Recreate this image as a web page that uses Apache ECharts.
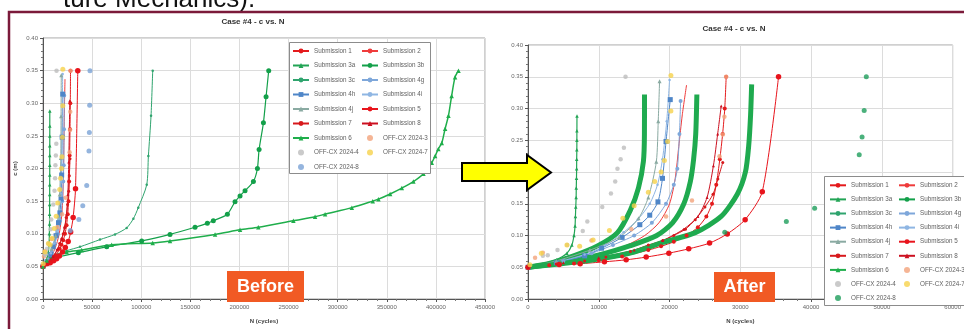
<!DOCTYPE html>
<html><head><meta charset="utf-8">
<style>html,body{margin:0;padding:0;background:#fff}#c{width:964px;height:329px}</style>
<script src="https://cdn.jsdelivr.net/npm/echarts@6/dist/echarts.min.js"></script>
</head><body><div id="c"></div>
<script>
// ---------- data: [N (cycles), c (m)] ----------
const sub1 = [[0,0.05],[3000,0.053],[6500,0.056],[10000,0.061],[13300,0.067],[17000,0.077],[18800,0.083],[20600,0.09],[22400,0.1],[24000,0.113],[25200,0.13],[26000,0.15],[26600,0.18],[27100,0.22],[27500,0.26],[27800,0.3],[28000,0.35]];
const sub2 = [[0,0.05],[4000,0.056],[8000,0.064],[11000,0.073],[14000,0.085],[16500,0.1],[18500,0.12],[20000,0.15],[20800,0.19],[21300,0.24],[21800,0.29],[22400,0.337]];
const sub3a = [[0,0.05],[2000,0.055],[4000,0.062],[5500,0.072],[6200,0.085],[6500,0.1],[6650,0.115],[6700,0.13],[6750,0.145],[6800,0.16],[6820,0.175],[6850,0.19],[6870,0.205],[6880,0.22],[6900,0.235],[6905,0.25],[6910,0.265],[6920,0.288]];
const sub3bBefore = [[0,0.05],[10000,0.062],[36000,0.071],[64900,0.08],[100500,0.089],[129300,0.099],[154800,0.11],[167300,0.116],[173400,0.12],[187700,0.13],[195500,0.149],[200600,0.158],[205700,0.166],[214200,0.18],[218300,0.2],[220000,0.229],[224400,0.27],[227100,0.31],[229800,0.35]];
const sub3cBefore = [[0,0.05],[7100,0.064],[24100,0.074],[37700,0.08],[58000,0.091],[73300,0.099],[85200,0.109],[92000,0.123],[97000,0.14],[105600,0.175],[107300,0.219],[110000,0.281],[111700,0.35]];
const sub6Before = [[0,0.05],[3800,0.059],[24100,0.072],[39400,0.075],[69900,0.083],[111700,0.086],[129300,0.089],[175200,0.099],[200600,0.106],[219200,0.11],[254900,0.12],[277000,0.126],[287200,0.13],[314400,0.14],[335700,0.15],[341500,0.153],[353400,0.161],[365300,0.17],[377100,0.18],[387300,0.192],[395800,0.209],[399200,0.219],[402500,0.23],[406000,0.239],[409400,0.261],[412800,0.281],[416000,0.311],[419500,0.34],[423000,0.35]];
const sub3cAfter = [[0,0.05],[3000,0.056],[6450,0.068],[9890,0.084],[12640,0.1045],[14470,0.14],[15610,0.175],[16300,0.216],[16450,0.26],[16460,0.322]];
const sub3bAfter = [[0,0.05],[5000,0.058],[9890,0.069],[14470,0.084],[18130,0.0995],[20420,0.12],[22020,0.15],[22940,0.185],[23400,0.22],[23700,0.26],[23860,0.322]];
const sub6After = [[0,0.05],[5000,0.056],[10000,0.063],[15000,0.074],[19050,0.089],[23630,0.1045],[27290,0.13],[29570,0.165],[30720,0.2],[31180,0.241],[31450,0.29],[31600,0.338]];
const sub4g = [[0,0.05],[5000,0.06],[9000,0.072],[12000,0.085],[15000,0.1],[17500,0.12],[19500,0.15],[20600,0.18],[21100,0.205],[21400,0.26],[21560,0.312]];
const sub4h = [[0,0.05],[4000,0.057],[8000,0.068],[10400,0.08],[13300,0.097],[15800,0.117],[17200,0.132],[18360,0.153],[19000,0.19],[19500,0.248],[20100,0.314]];
const sub4i = [[0,0.05],[4000,0.058],[8000,0.07],[11000,0.085],[13500,0.105],[15500,0.125],[17200,0.15],[18300,0.18],[19000,0.22],[19600,0.28],[20000,0.345]];
const sub4j = [[0,0.05],[4000,0.06],[8750,0.077],[12870,0.097],[15610,0.127],[17000,0.16],[18130,0.216],[18400,0.28],[18590,0.343]];
const sub5 = [[0,0.05],[4400,0.0545],[7370,0.0556],[10800,0.0586],[13870,0.0617],[16700,0.066],[19900,0.0722],[22710,0.079],[25650,0.088],[28150,0.1025],[30680,0.125],[33100,0.169],[35400,0.35]];
const sub7 = [[0,0.05],[4000,0.055],[8000,0.06],[11000,0.066],[14470,0.075],[17000,0.085],[19050,0.092],[20600,0.1],[22250,0.11],[23630,0.125],[25000,0.145],[26140,0.165],[26830,0.189],[27520,0.215]];
const sub8 = [[0,0.05],[5000,0.057],[10000,0.065],[15000,0.077],[19000,0.092],[22000,0.11],[24000,0.13],[25300,0.16],[26200,0.21],[26800,0.26],[27300,0.304]];
const off3 = [[1000,0.065],[2100,0.073],[8970,0.092],[14610,0.11],[19500,0.13],[23170,0.155],[27060,0.225],[27520,0.259],[27750,0.287],[28000,0.35]];
const off4 = [[2100,0.068],[2790,0.069],[4170,0.077],[5540,0.085],[7740,0.107],[8380,0.122],[10490,0.145],[11720,0.166],[12320,0.185],[12640,0.205],[13090,0.22],[13550,0.238],[13780,0.35]];
const off7 = [[270,0.054],[1880,0.072],[5500,0.085],[7300,0.083],[9200,0.093],[11500,0.108],[13400,0.127],[15000,0.147],[17000,0.168],[17900,0.185],[18810,0.2],[19270,0.218],[19730,0.248],[20190,0.296],[20190,0.352]];
const off8 = [[27800,0.105],[36500,0.122],[40500,0.143],[44500,0.174],[46800,0.227],[47200,0.255],[47500,0.297],[47800,0.35]];

const xTicksBefore = {min:0, max:450000, interval:50000};
const xTicksAfter = {min:0, max:60000, interval:10000};
const yTicks = {min:0, max:0.4, interval:0.05};

const legendLeftCol = ['Submission 1','Submission 3a','Submission 3c','Submission 4h','Submission 4j','Submission 7','Submission 6','OFF-CX 2024-4','OFF-CX 2024-8'];
const legendRightCol = ['Submission 2','Submission 3b','Submission 4g','Submission 4i','Submission 5','Submission 8','OFF-CX 2024-3','OFF-CX 2024-7'];

// ---------- styles ----------
const ST = {
  'Submission 1': {c:'#e41a1c', s:'circle', z:4, w:1},
  'Submission 2': {c:'#ef3b3b', s:'none', z:0, w:1},
  'Submission 3a': {c:'#22a455', s:'triangle', z:3.5, w:1.2},
  'Submission 3b': {c:'#13a04a', s:'circle', z:5, w:1.2},
  'Submission 3c': {c:'#2fa46e', s:'circle', z:2.5, w:1},
  'Submission 4g': {c:'#7ea7da', s:'circle', z:4, w:1},
  'Submission 4h': {c:'#4f86c8', s:'rect', z:5, w:1},
  'Submission 4i': {c:'#8fb6e3', s:'circle', z:2.5, w:1},
  'Submission 4j': {c:'#8aaaa2', s:'triangle', z:4, w:1},
  'Submission 5': {c:'#e8141c', s:'circle', z:5.5, w:1},
  'Submission 7': {c:'#d7191c', s:'circle', z:3, w:1},
  'Submission 8': {c:'#cc1020', s:'triangle', z:3, w:1},
  'Submission 6': {c:'#1fae4b', s:'triangle', z:4.5, w:1.5},
  'OFF-CX 2024-3': {c:'#f3a27a', z:4.5},
  'OFF-CX 2024-4': {c:'#bdbdbd', z:4.5},
  'OFF-CX 2024-7': {c:'#f6d24b', z:5},
  'OFF-CX 2024-8': {c:'#7aa3d6', z:5}
};
const OFF8_AFTER_COLOR = '#1e9e5b';
const FONT = '"Liberation Sans", Arial, sans-serif';

function line(name, data, gi, over) {
  const st = ST[name];
  const o = {type:'line', name, data, xAxisIndex:gi, yAxisIndex:gi, smooth:0.25,
    symbol: st.s, symbolSize: st.z, showSymbol: st.s !== 'none',
    lineStyle:{color:st.c, width:st.w}, itemStyle:{color:st.c}, animation:false, z:2};
  if (over) Object.assign(o, over);
  return o;
}
function dots(name, data, gi, color) {
  const st = ST[name];
  return {type:'scatter', name, data, xAxisIndex:gi, yAxisIndex:gi, symbol:'circle',
    symbolSize: st.z, itemStyle:{color: color || st.c}, animation:false, z:3};
}
const thick = {lineStyle:{color:'#1faa4f', width:5}, showSymbol:false, symbol:'none'};

const series = [
  // before (grid 0)
  line('Submission 1', sub1, 0), line('Submission 2', sub2, 0), line('Submission 3a', sub3a, 0),
  line('Submission 3b', sub3bBefore, 0), line('Submission 3c', sub3cBefore, 0),
  line('Submission 4g', sub4g, 0), line('Submission 4h', sub4h, 0), line('Submission 4i', sub4i, 0),
  line('Submission 4j', sub4j, 0), line('Submission 5', sub5, 0), line('Submission 7', sub7, 0),
  line('Submission 8', sub8, 0), line('Submission 6', sub6Before, 0),
  dots('OFF-CX 2024-3', off3, 0), dots('OFF-CX 2024-4', off4, 0), dots('OFF-CX 2024-7', off7, 0),
  dots('OFF-CX 2024-8', off8, 0),
  // after (grid 1)
  line('Submission 1', sub1, 1), line('Submission 2', sub2, 1), line('Submission 3a', sub3a, 1),
  line('Submission 3b', sub3bAfter, 1, thick), line('Submission 3c', sub3cAfter, 1, thick),
  line('Submission 4g', sub4g, 1), line('Submission 4h', sub4h, 1), line('Submission 4i', sub4i, 1),
  line('Submission 4j', sub4j, 1), line('Submission 5', sub5, 1), line('Submission 7', sub7, 1),
  line('Submission 8', sub8, 1), line('Submission 6', sub6After, 1, thick),
  dots('OFF-CX 2024-3', off3, 1), dots('OFF-CX 2024-4', off4, 1), dots('OFF-CX 2024-7', off7, 1),
  dots('OFF-CX 2024-8', off8, 1, OFF8_AFTER_COLOR)
];

function xAxis(gi, t) {
  return {type:'value', gridIndex:gi, min:t.min, max:t.max, interval:t.interval,
    name:'N (cycles)', nameLocation:'middle', nameGap:19,
    nameTextStyle:{fontSize:6, color:'#444', fontWeight:'bold', fontFamily:FONT},
    axisLine:{lineStyle:{color:'#555', width:1}}, axisTick:{length:3, lineStyle:{color:'#555'}},
    minorTick:{show:true, splitNumber:5, length:2, lineStyle:{color:'#777'}},
    splitLine:{show:true, lineStyle:{color:'#dcdcdc', width:1}},
    axisLabel:{fontSize:6, color:'#666', margin:5, fontFamily:FONT, formatter:v=>String(v)}};
}
function yAxis(gi, gap) {
  return {type:'value', gridIndex:gi, min:yTicks.min, max:yTicks.max, interval:yTicks.interval,
    name:'c (m)', nameLocation:'middle', nameGap:gap,
    nameTextStyle:{fontSize:6, color:'#444', fontWeight:'bold', fontFamily:FONT},
    axisLine:{show:true, lineStyle:{color:'#555', width:1}}, axisTick:{show:true, length:3, lineStyle:{color:'#555'}},
    minorTick:{show:true, splitNumber:5, length:2, lineStyle:{color:'#777'}},
    splitLine:{show:true, lineStyle:{color:'#dcdcdc', width:1}},
    axisLabel:{fontSize:6, color:'#666', margin:5, fontFamily:FONT, formatter:v=>v.toFixed(2)}};
}
function legend(left, top, gap, names, off8Color) {
  return {orient:'vertical', left, top, padding:0, itemWidth:16, itemHeight:6, itemGap:gap,
    selectedMode:false, z:6,
    textStyle:{fontSize:6.3, color:'#5f5f5f', lineHeight:8, fontFamily:FONT},
    data: names.map(n => (n === 'OFF-CX 2024-8' && off8Color) ? {name:n, itemStyle:{color:off8Color}} : n)};
}

const option = {
  backgroundColor:'#fff', animation:false,
  grid:[
    {left:43, top:38, width:442, height:270, show:true, borderColor:'#a0a0a0', borderWidth:1, backgroundColor:'transparent'},
    {left:528, top:45, width:437, height:264, show:true, borderColor:'#a0a0a0', borderWidth:1, backgroundColor:'transparent'}
  ],
  xAxis:[xAxis(0, xTicksBefore), xAxis(1, xTicksAfter)],
  yAxis:[yAxis(0, 25), yAxis(1, 24)],
  legend:[
    legend(292, 47, 6.5, legendLeftCol), legend(361, 47, 6.5, legendRightCol),
    legend(829, 181.3, 6.1, legendLeftCol, OFF8_AFTER_COLOR), legend(898, 181.3, 6.1, legendRightCol, OFF8_AFTER_COLOR)
  ],
  series,
  graphic:[
    {type:'text', z:20, style:{text:'ture Mechanics).', x:63, y:-13, font:'26px '+FONT, fill:'#111', align:'left', verticalAlign:'top'}},
    {type:'polyline', z:20, shape:{points:[[9,329],[9,12],[964,12]]}, style:{stroke:'#7b1a3a', lineWidth:2.5, fill:null}},
    {type:'text', z:20, style:{text:'Case #4 - c vs. N', x:253, y:22, font:'bold 8px '+FONT, fill:'#333', align:'center', verticalAlign:'middle'}},
    {type:'text', z:20, style:{text:'Case #4 - c vs. N', x:734, y:29, font:'bold 8px '+FONT, fill:'#333', align:'center', verticalAlign:'middle'}},
    {type:'rect', z:5, shape:{x:289.5, y:42.5, width:141, height:131}, style:{fill:'#fff', stroke:'#8c8c8c', lineWidth:1}},
    {type:'rect', z:5, shape:{x:824.5, y:176.5, width:140, height:129}, style:{fill:'#fff', stroke:'#8c8c8c', lineWidth:1}},
    {type:'polygon', z:20, shape:{points:[[462,163],[527,163],[527,155],[551,172.5],[527,190],[527,181],[462,181]]}, style:{fill:'#ffff00', stroke:'#000', lineWidth:2}},
    {type:'rect', z:20, shape:{x:227, y:271, width:77, height:31}, style:{fill:'#f15a24'}},
    {type:'text', z:21, style:{text:'Before', x:265.5, y:287, font:'bold 18px '+FONT, fill:'#fff', align:'center', verticalAlign:'middle'}},
    {type:'rect', z:20, shape:{x:714, y:272, width:61, height:30}, style:{fill:'#f15a24'}},
    {type:'text', z:21, style:{text:'After', x:744.5, y:287.5, font:'bold 18px '+FONT, fill:'#fff', align:'center', verticalAlign:'middle'}}
  ]
};
const chart = echarts.init(document.getElementById('c'), null, {renderer:'canvas'});
chart.setOption(option);
</script>
</body></html>
